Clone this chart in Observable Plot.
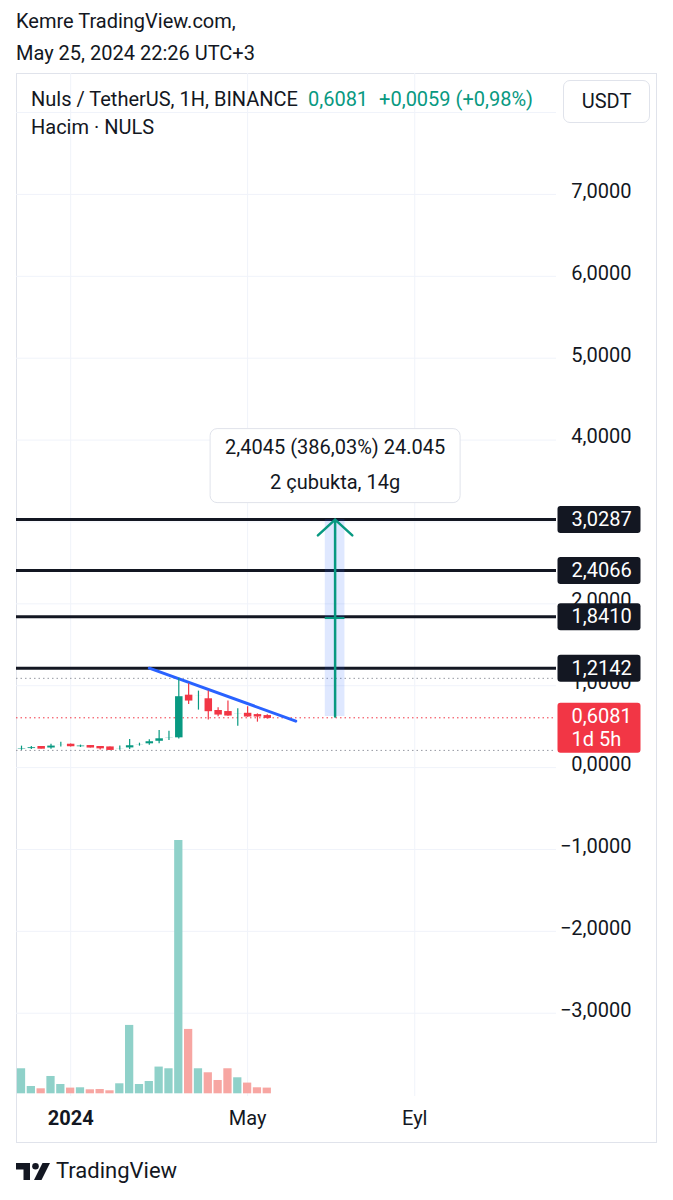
<!DOCTYPE html>
<html><head><meta charset="utf-8">
<script src="https://cdn.jsdelivr.net/npm/d3@7"></script>
<script src="https://cdn.jsdelivr.net/npm/@observablehq/plot@0.6"></script>
<style>
body{margin:0;background:#fff;font-family:Roboto,"Noto Sans",sans-serif;color:#131722;width:673px;height:1200px;position:relative;overflow:hidden}
.abs{position:absolute;white-space:nowrap}
#frame{position:absolute;left:16px;top:73px;width:641px;height:1070px;border:1px solid #e0e3eb;box-sizing:border-box}
#chart,#vol{position:absolute;left:0;top:73px}
#vol{pointer-events:none}
#usdt{position:absolute;left:563px;top:80px;width:87px;height:43px;box-sizing:border-box;border:1px solid #e0e3eb;border-radius:7px;background:#fff;font-size:20px;line-height:41px;text-align:center}
</style></head><body>
<div class="abs" style="left:16px;top:8px;font-size:20px;line-height:26px">Kemre TradingView.com,</div>
<div class="abs" style="left:16px;top:40px;font-size:20px;line-height:26px">May 25, 2024 22:26 UTC+3</div>
<div id="frame"></div>
<div id="chart"></div>
<div id="vol"></div>
<div class="abs" style="left:31px;top:86px;font-size:20px;line-height:26px">Nuls / TetherUS, 1H, BINANCE<span style="color:#089981;margin-left:10px">0,6081</span><span style="color:#089981;margin-left:11px">+0,0059 (+0,98%)</span></div>
<div class="abs" style="left:31px;top:114px;font-size:20px;line-height:26px">Hacim · NULS</div>
<div id="usdt">USDT</div>
<div class="abs" style="left:16px;top:1158px;height:26px;display:flex;align-items:center">
<svg width="34" height="17" viewBox="0 0 34 17" style="margin-right:6px"><path d="M0 0H14V17H7.5V6.5H0Z" fill="#131722"/><circle cx="19.5" cy="3.3" r="3.3" fill="#131722"/><path d="M26.5 0H34L25.5 17H18Z" fill="#131722"/></svg>
<span style="font-size:22px;line-height:26px">TradingView</span></div>
<script>
// ---- data (weekly bars, NULS/USDT) ----
const barIndex = d3.range(26);
const open  = [0.218,0.225,0.250,0.232,0.268,0.278,0.256,0.262,0.250,0.245,0.222,0.233,0.272,0.283,0.314,0.351,0.356,0.877,0.869,0.833,0.690,0.677,0.649,0.656,0.640,0.628];
const high  = [0.262,0.258,0.256,0.285,0.310,0.287,0.275,0.270,0.256,0.252,0.265,0.343,0.298,0.339,0.454,0.445,1.090,1.023,0.934,0.934,0.730,0.812,0.718,0.742,0.656,0.645];
const low   = [0.210,0.220,0.228,0.225,0.253,0.250,0.245,0.240,0.216,0.212,0.212,0.221,0.262,0.274,0.290,0.331,0.350,0.771,0.702,0.580,0.620,0.628,0.506,0.616,0.555,0.590];
const close = [0.238,0.250,0.232,0.270,0.282,0.262,0.262,0.246,0.236,0.217,0.238,0.274,0.285,0.323,0.359,0.368,0.873,0.820,0.883,0.690,0.649,0.637,0.665,0.625,0.625,0.6081];
const volume = [2.5,0.73,0.5,1.73,0.93,0.57,0.6,0.4,0.43,0.3,1.0,6.83,0.93,1.23,2.67,2.5,25.3,6.43,2.5,2.1,1.33,2.5,1.6,1.07,0.6,0.57];
const levels = [3.0287, 2.4066, 1.8410, 1.2142];
const priceTicks = [7,6,5,4,2,1,0,-1,-2,-3];
const gridPrices = [8,7,6,5,4,3,2,1,0,-1,-2,-3];
const timeTickIdx = [5, 23, 40];
const timeTickText = ["2024", "May", "Eyl"];
const trendIdx = [13, 27.9];
const trendPrice = [1.2142, 0.568];
const measureIdx = [30.9, 32.9];
const measurePrice = [0.6242, 3.0287];
const measureText = ["2,4045 (386,03%) 24.045", "2 çubukta, 14g"];
const countdown = "1d 5h";

const UP = "#089981", DOWN = "#f23645", INK = "#131722";
const bars = barIndex.map(i => ({i, o: open[i], h: high[i], l: low[i], c: close[i], v: volume[i], up: close[i] >= open[i]}));
const fmt = v => (v < 0 ? "\u2212" : "") + Math.abs(v).toFixed(4).replace(".", ",");
const last = close[close.length - 1];
const hiAll = d3.max(high), loAll = d3.min(low);
const mX = (measureIdx[0] + measureIdx[1]) / 2;
const mMid = (measurePrice[0] + measurePrice[1]) / 2;
const trend = trendIdx.map((x, k) => ({x, y: trendPrice[k]}));

function roundBox(w, h, r) {
  return {draw(ctx) {
    const x0 = -w/2, y0 = -h/2, x1 = w/2, y1 = h/2;
    ctx.moveTo(x0 + r, y0);
    ctx.lineTo(x1 - r, y0); ctx.arcTo(x1, y0, x1, y0 + r, r);
    ctx.lineTo(x1, y1 - r); ctx.arcTo(x1, y1, x1 - r, y1, r);
    ctx.lineTo(x0 + r, y1); ctx.arcTo(x0, y1, x0, y1 - r, r);
    ctx.lineTo(x0, y0 + r); ctx.arcTo(x0, y0, x0 + r, y0, r);
    ctx.closePath();
  }};
}

const W = 673, H = 1070, ML = 16, MR = 117, MB = 47;
const xScale = {domain: [-0.509, 54.42], axis: null};
const font = "Roboto, 'Noto Sans', sans-serif";

const chart = Plot.plot({
  width: W, height: H, marginLeft: ML, marginRight: MR, marginTop: 0, marginBottom: MB,
  style: {background: "transparent", fontFamily: font, overflow: "visible"},
  x: xScale,
  y: {domain: [-4.017, 8.477], axis: null},
  marks: [
    Plot.ruleY(gridPrices, {stroke: "#f0f3fa", strokeWidth: 1}),
    Plot.ruleX(timeTickIdx, {stroke: "#f0f3fa", strokeWidth: 1}),
    Plot.ruleY([hiAll, loAll], {stroke: "#9598a1", strokeWidth: 1, strokeDasharray: "1.5,3"}),
    Plot.ruleY([last], {stroke: DOWN, strokeWidth: 1, strokeDasharray: "1.5,3"}),
    Plot.ruleY(levels, {stroke: INK, strokeWidth: 3}),
    Plot.rect([0], {x1: measureIdx[0], x2: measureIdx[1], y1: measurePrice[0], y2: measurePrice[1], fill: "#2962ff", fillOpacity: 0.15}),
    Plot.line(trend, {x: "x", y: "y", stroke: "#2962ff", strokeWidth: 3}),
    Plot.ruleX(bars, {x: "i", y1: "l", y2: "h", stroke: d => d.up ? UP : DOWN, strokeWidth: 1.2}),
    Plot.ruleX(bars, {x: "i", y1: "o", y2: "c", stroke: d => d.up ? UP : DOWN, strokeWidth: 7.5, insetTop: -0.6, insetBottom: -0.6}),
    Plot.arrow([0], {x1: mX, x2: mX, y1: measurePrice[0], y2: measurePrice[1], stroke: UP, strokeWidth: 2.5, headLength: 14, headAngle: 95}),
    Plot.ruleY([mMid], {x1: measureIdx[0], x2: measureIdx[1], stroke: UP, strokeWidth: 2}),
    Plot.dot([0], {x: mX, y: measurePrice[1], dy: -54, symbol: roundBox(250, 74, 7), fill: "white", stroke: "#e0e3eb", strokeWidth: 1}),
    Plot.text([measureText[0]], {x: mX, y: measurePrice[1], dy: -72, text: d => d, fontSize: 20, fill: INK}),
    Plot.text([measureText[1]], {x: mX, y: measurePrice[1], dy: -37, text: d => d, fontSize: 20, fill: INK}),
    // price axis
    Plot.text(priceTicks, {y: d => d, text: fmt, frameAnchor: "right", dx: 75, dy: -3, textAnchor: "end", fontSize: 20, fill: INK}),
    Plot.dot(levels, {y: d => d, frameAnchor: "right", dx: 42.5, symbol: roundBox(83, 27, 3), fill: INK, stroke: "none"}),
    Plot.text(levels, {y: d => d, text: fmt, frameAnchor: "right", dx: 15, textAnchor: "start", fontSize: 20, fill: "white"}),
    Plot.dot([last], {y: d => d, frameAnchor: "right", dx: 42.5, dy: 10, symbol: roundBox(83, 50, 3), fill: DOWN, stroke: "none"}),
    Plot.text([last], {y: d => d, text: fmt, frameAnchor: "right", dx: 15, dy: -1.5, textAnchor: "start", fontSize: 20, fill: "white"}),
    Plot.text([last], {y: d => d, text: () => countdown, frameAnchor: "right", dx: 15, dy: 21.5, textAnchor: "start", fontSize: 20, fill: "white"}),
    // time axis
    Plot.text([timeTickText[0]], {x: timeTickIdx[0], text: d => d, frameAnchor: "bottom", dy: 28, fontSize: 20, fontWeight: "bold", fill: INK}),
    Plot.text(timeTickText.slice(1), {x: (d, k) => timeTickIdx[k + 1], text: d => d, frameAnchor: "bottom", dy: 28, fontSize: 20, fill: INK})
  ]
});
document.getElementById("chart").appendChild(chart);

const vol = Plot.plot({
  width: W, height: H, marginLeft: ML, marginRight: MR, marginTop: 0, marginBottom: MB,
  style: {background: "transparent", fontFamily: font},
  x: xScale,
  y: {domain: [0, 25.3], range: [1020.3, 767], axis: null},
  marks: [
    Plot.rectY(bars, {x1: d => d.i - 0.42, x2: d => d.i + 0.42, y: "v", fill: d => d.up ? "#8fd1c9" : "#f7a6a2"})
  ]
});
document.getElementById("vol").appendChild(vol);
</script>
</body></html>
